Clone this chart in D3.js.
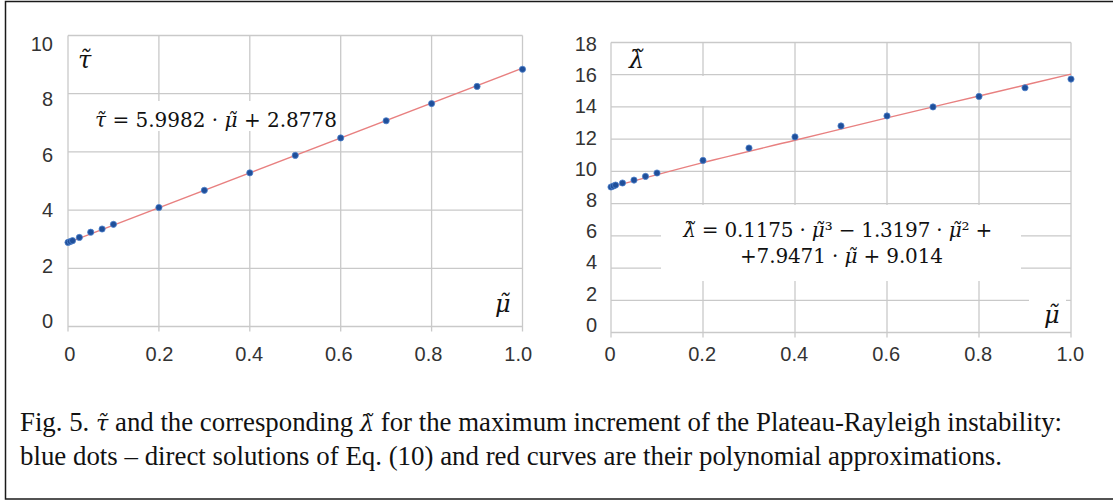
<!DOCTYPE html>
<html>
<head>
<meta charset="utf-8">
<script src="https://cdn.jsdelivr.net/npm/d3@7"></script>
<style>
  body { margin: 0; background: #fff; }
  svg { display: block; }
  .tick-label text { font-family: "Liberation Sans", Arial, sans-serif; font-size: 20px; fill: #333; }
  .math { font-family: "DejaVu Serif", serif; fill: #111; }
  .caption { font-family: "Liberation Serif", "Times New Roman", serif; font-size: 26.5px; fill: #111; }
</style>
</head>
<body>
<svg id="chart"></svg>
<script>
let width = 1113;
let height = 500;

// values
let muValues = [0, 0.005, 0.01, 0.025, 0.05, 0.075, 0.1, 0.2, 0.3, 0.4, 0.5, 0.6, 0.7, 0.8, 0.9, 1.0];
let tauValues = [2.89, 2.92, 2.95, 3.06, 3.24, 3.35, 3.51, 4.09, 4.68, 5.28, 5.88, 6.48, 7.07, 7.66, 8.25, 8.84];
let lambdaValues = [9.03, 9.09, 9.15, 9.28, 9.46, 9.69, 9.90, 10.68, 11.45, 12.14, 12.82, 13.44, 14.00, 14.65, 15.19, 15.73];

// red approximation curves, as drawn
let tauFitMu = [0, 1];
let tauFitValues = [2.88, 8.88];
let lambdaFitMu = [0, 0.2, 0.4, 0.6, 0.8, 1.0];
let lambdaFitValues = [9.02, 10.54, 11.93, 13.32, 14.68, 16.04];

// ticks
let muTicks = [0, 0.2, 0.4, 0.6, 0.8, 1.0];
let muTickLabels = ['0', '0.2', '0.4', '0.6', '0.8', '1.0'];
let tauTicks = [0, 2, 4, 6, 8, 10];
let lambdaTicks = [0, 2, 4, 6, 8, 10, 12, 14, 16, 18];

let gridColor = '#c9c9c9';
let dotColor = '#1f4f9a';
let lineColor = '#e88080';

let svg = d3.select('#chart')
  .attr('width', width)
  .attr('height', height);

svg.append('rect')
  .attr('x', 5.5).attr('y', 1.5)
  .attr('width', width).attr('height', 497.5)
  .attr('fill', 'none')
  .attr('stroke', '#1a1a1a')
  .attr('stroke-width', 1.5);

function drawPanel(opt) {
  let x = d3.scaleLinear().domain([0, 1]).range(opt.xRange);
  let y = d3.scaleLinear().domain(opt.yDomain).range(opt.yRange);
  // tick labels in the picture sit slightly off the grid
  let xLab = d3.scaleLinear().domain([0, 1]).range(opt.xLabRange);
  let yLab = d3.scaleLinear().domain(opt.yDomain).range(opt.yLabRange);

  let g = svg.append('g');
  let grid = g.append('g').attr('stroke', gridColor).attr('stroke-width', 1.3);

  grid.selectAll('.h')
    .data(opt.yTicks)
    .enter()
    .append('line')
      .attr('x1', x(0)).attr('x2', x(1))
      .attr('y1', d => y(d)).attr('y2', d => y(d));

  grid.selectAll('.v')
    .data(muTicks)
    .enter()
    .append('line')
      .attr('x1', d => x(d)).attr('x2', d => x(d))
      .attr('y1', y(opt.yDomain[1])).attr('y2', y(0) + 5);

  // white boxes behind annotations
  g.selectAll('.mask')
    .data(opt.masks)
    .enter()
    .append('rect')
      .attr('x', d => d[0]).attr('y', d => d[1])
      .attr('width', d => d[2]).attr('height', d => d[3])
      .attr('fill', '#fff');

  g.append('g')
    .attr('class', 'tick-label')
    .attr('transform', `translate(${opt.yLabX}, 0)`)
    .call(d3.axisLeft(yLab).tickValues(opt.yTicks).tickSize(0).tickPadding(0))
    .call(a => a.select('.domain').remove());

  g.append('g')
    .attr('class', 'tick-label')
    .attr('transform', `translate(0, ${opt.xLabY})`)
    .call(d3.axisBottom(xLab).tickValues(muTicks).tickSize(0).tickPadding(0)
      .tickFormat((d, i) => muTickLabels[i]))
    .call(a => a.select('.domain').remove());

  g.append('path')
    .datum(opt.fitMu.map((m, i) => [m, opt.fitValues[i]]))
    .attr('d', d3.line().x(d => x(d[0])).y(d => y(d[1])).curve(d3.curveMonotoneX))
    .attr('fill', 'none')
    .attr('stroke', lineColor)
    .attr('stroke-width', 1.4);

  g.selectAll('.dot')
    .data(muValues.map((m, i) => [m, opt.values[i]]))
    .enter()
    .append('circle')
      .attr('cx', d => x(d[0]))
      .attr('cy', d => y(d[1]))
      .attr('r', 3.1)
      .attr('fill', dotColor)
      .attr('stroke', '#4f82cc')
      .attr('stroke-width', 0.8);

  return { x, y };
}

drawPanel({
  xRange: [68, 522.5], yDomain: [0, 10], yRange: [326.5, 35.5],
  xLabRange: [69.3, 517.7], yLabRange: [321.5, 43.7],
  yLabX: 53, xLabY: 346.5,
  yTicks: tauTicks, values: tauValues,
  fitMu: tauFitMu, fitValues: tauFitValues,
  masks: [[93, 101, 247, 30]]
});

drawPanel({
  xRange: [611, 1071], yDomain: [0, 18], yRange: [332.5, 42.5],
  xLabRange: [609.6, 1069.8], yLabRange: [325, 44],
  yLabX: 597, xLabY: 347,
  yTicks: lambdaTicks, values: lambdaValues,
  fitMu: lambdaFitMu, fitValues: lambdaFitValues,
  masks: [[661, 205, 360, 76], [1029, 288, 37, 37], [698, 76, 9, 30]]
});

// math text
function mathText(x, y, size, parts, anchor) {
  let t = svg.append('text')
    .attr('class', 'math')
    .attr('x', x).attr('y', y)
    .style('font-size', size + 'px')
    .attr('text-anchor', anchor || 'start');
  parts.forEach(p => {
    t.append('tspan')
      .style('font-style', p[1] ? 'italic' : 'normal')
      .text(p[0]);
  });
  return t;
}

mathText(78, 68, 24, [['τ\u0303', true]]);
mathText(495, 312, 24, [['μ\u0303', true]]);
mathText(629, 68, 24, [['λ\u0303', true]]);
mathText(1044, 323, 24, [['μ\u0303', true]]);

mathText(95, 127, 20, [
  ['τ\u0303', true], [' = 5.9982 · ', false], ['μ\u0303', true], [' + 2.8778', false]
]).attr('textLength', 242).attr('lengthAdjust', 'spacing');

mathText(683, 237, 20, [
  ['λ\u0303', true], [' = 0.1175 · ', false], ['μ\u0303', true], ['³ − 1.3197 · ', false],
  ['μ\u0303', true], ['² +', false]
]).attr('textLength', 309).attr('lengthAdjust', 'spacing');

mathText(740, 263, 20, [
  ['+7.9471 · ', false], ['μ\u0303', true], [' + 9.014', false]
]).attr('textLength', 203).attr('lengthAdjust', 'spacing');

// caption
let cap1 = svg.append('text').attr('class', 'caption').attr('x', 20).attr('y', 431)
  .attr('textLength', 1042).attr('lengthAdjust', 'spacingAndGlyphs');
cap1.append('tspan').text('Fig. 5. ');
cap1.append('tspan').style('font-style', 'italic').style('font-family', 'DejaVu Serif').style('font-size', '22px').text('τ\u0303');
cap1.append('tspan').text(' and the corresponding ');
cap1.append('tspan').style('font-style', 'italic').style('font-family', 'DejaVu Serif').style('font-size', '22px').text('λ\u0303');
cap1.append('tspan').text(' for the maximum increment of the Plateau-Rayleigh instability:');

svg.append('text').attr('class', 'caption').attr('x', 20).attr('y', 465)
  .attr('textLength', 982).attr('lengthAdjust', 'spacingAndGlyphs')
  .text('blue dots – direct solutions of Eq. (10) and red curves are their polynomial approximations.');
</script>
</body>
</html>
